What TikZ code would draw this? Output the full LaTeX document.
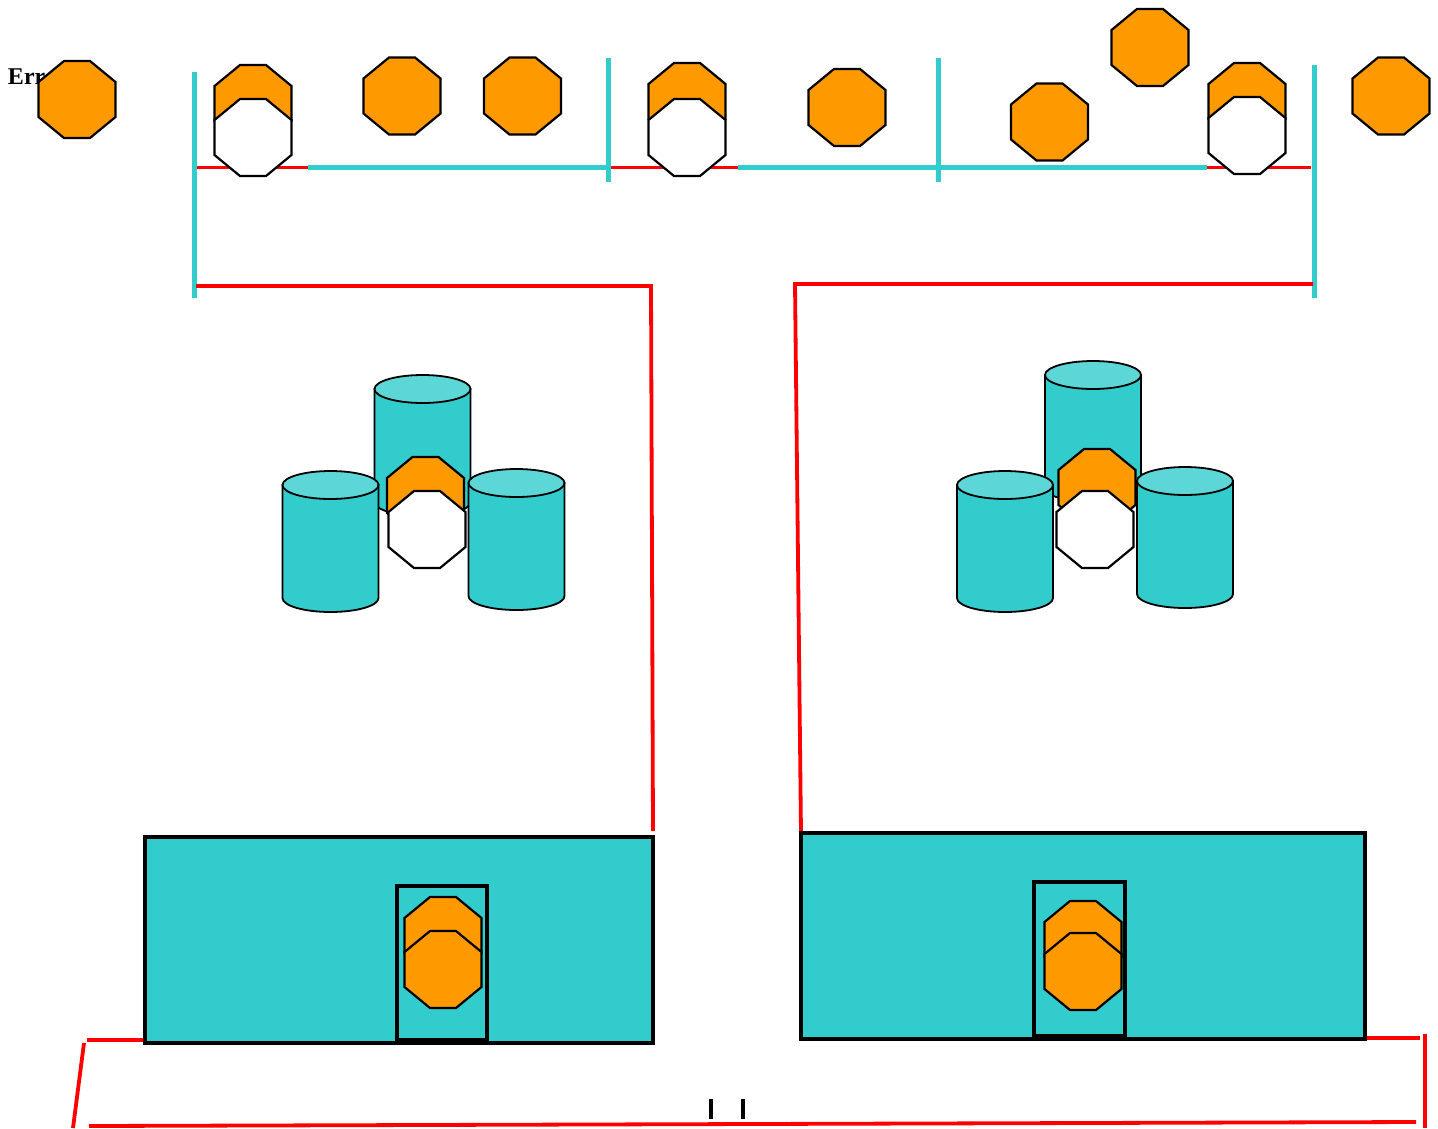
\documentclass[tikz,border=0pt]{standalone}
\usepackage{fontspec}
\setmainfont{Liberation Serif}
\definecolor{tealfill}{HTML}{33CCCC}
\definecolor{tealtop}{HTML}{5CD6D6}
\definecolor{amber}{HTML}{FF9900}
\tikzstyle{every node}=[inner sep=0pt, outer sep=0pt]
\tikzstyle{octaline} = [draw=black, line width=2.2pt]
\tikzstyle{drumline} = [draw=black, line width=1.8pt]
\tikzstyle{rack} = [rectangle, draw=black, line width=3.5pt, fill=tealfill]
\tikzstyle{slot} = [rack, fill=tealfill]
\tikzstyle{line} = [draw, red, line width=3.8pt]
\tikzstyle{bus} = [draw, tealfill, line width=4.4pt]
\tikzstyle{tick} = [draw, black, line width=4pt]
\tikzset{pics/octa/.style={code={
    \path [octaline, fill=#1] (-38.5,-17.5) -- (-13,-38.5) -- (13,-38.5) -- (38.5,-17.5) -- (38.5,17.5) -- (13,38.5) -- (-13,38.5) -- (-38.5,17.5) -- cycle;
}}}
\tikzset{pics/drum/.style={code={
    \path [drumline, fill=tealfill] (-48,0) -- (-48,113) arc [start angle=180, end angle=360, x radius=48pt, y radius=14pt] -- (48,0) -- cycle;
    \path [drumline, fill=tealtop] (0,0) ellipse [x radius=48pt, y radius=14pt];
}}}

\begin{document}
\begin{tikzpicture}[x=1pt, y=-1pt]
    \useasboundingbox (0,0) rectangle (1438,1128);
    % Place coordinates
    \coordinate (barAtop) at (194.5,72);
    \coordinate (barAbot) at (194.5,298);
    \coordinate (barBtop) at (608.5,58);
    \coordinate (barBbot) at (608.5,182);
    \coordinate (barCtop) at (938.5,58);
    \coordinate (barCbot) at (938.5,182);
    \coordinate (barDtop) at (1314.5,65);
    \coordinate (barDbot) at (1314.5,298);
    \coordinate (redAa) at (195,167.5);
    \coordinate (redAb) at (308,167.5);
    \coordinate (redBa) at (610,167.5);
    \coordinate (redBb) at (738,167.5);
    \coordinate (redCa) at (1207,167.5);
    \coordinate (redCb) at (1311,167.5);
    \coordinate (busCa) at (940,167.5);
    \coordinate (leftA) at (196,286);
    \coordinate (leftB) at (651,286);
    \coordinate (leftC) at (653,831);
    \coordinate (rightA) at (1313,284);
    \coordinate (rightB) at (795,284);
    \coordinate (rightC) at (801,833);
    \coordinate (footA) at (144,1040);
    \coordinate (footB) at (87,1040);
    \coordinate (footC) at (84,1043);
    \coordinate (footD) at (73,1128);
    \coordinate (footE) at (89,1126);
    \coordinate (footF) at (1416,1122);
    \coordinate (footG) at (1365,1038);
    \coordinate (footH) at (1420,1038);
    \coordinate (footI) at (1425,1034);
    \coordinate (footJ) at (1425,1128);
    \coordinate (tickAa) at (710.5,1099);
    \coordinate (tickAb) at (710.5,1119);
    \coordinate (tickBa) at (742.5,1099);
    \coordinate (tickBb) at (742.5,1119);
    % Draw edges
    \path [line] (redAa) -- (redAb);
    \path [bus] (redAb) -- (barBtop |- redAb);
    \path [line] (redBa) -- (redBb);
    \path [bus] (redBb) -- (barCtop |- redBb);
    \path [bus] (busCa) -- (redCa);
    \path [line] (redCa) -- (redCb);
    \path [bus] (barAtop) -- (barAbot);
    \path [bus] (barBtop) -- (barBbot);
    \path [bus] (barCtop) -- (barCbot);
    \path [bus] (barDtop) -- (barDbot);
    \path [line] (leftA) -- (leftB) -- (leftC);
    \path [line] (rightA) -- (rightB) -- (rightC);
    \path [line] (footA) -- (footB);
    \path [line] (footC) -- (footD);
    \path [line] (footE) -- (footF);
    \path [line] (footG) -- (footH);
    \path [line] (footI) -- (footJ);
    \path [tick] (tickAa) -- (tickAb);
    \path [tick] (tickBa) -- (tickBb);
    % Place nodes
    \node [anchor=base west, font=\bfseries\fontsize{24pt}{24pt}\selectfont] (errtext) at (8,84) {Err};
    \pic (first) at (77,99.5) {octa=amber};
    \pic (pairAback) at (253,103.5) {octa=amber};
    \pic (pairAfront) at (253,137.5) {octa=white};
    \pic (soloA) at (402,96) {octa=amber};
    \pic (soloB) at (522.5,96) {octa=amber};
    \pic (pairBback) at (687,101.5) {octa=amber};
    \pic (pairBfront) at (687,137.5) {octa=white};
    \pic (soloC) at (847,107.5) {octa=amber};
    \pic (soloD) at (1049.5,122) {octa=amber};
    \pic (soloE) at (1150,47.5) {octa=amber};
    \pic (pairCback) at (1247,101.5) {octa=amber};
    \pic (pairCfront) at (1247,135.5) {octa=white};
    \pic (last) at (1391,96) {octa=amber};
    % Left group
    \pic (drumAtop) at (422.5,389) {drum};
    \pic (drumAleft) at (330.5,485) {drum};
    \pic (drumAright) at (516.5,483) {drum};
    \pic (groupAback) at (425.5,495.5) {octa=amber};
    \pic (groupAfront) at (427,529.5) {octa=white};
    % Right group
    \pic (drumBtop) at (1093,375) {drum};
    \pic (drumBleft) at (1005,485) {drum};
    \pic (drumBright) at (1185,481) {drum};
    \pic (groupBback) at (1097,487.5) {octa=amber};
    \pic (groupBfront) at (1095,529.5) {octa=white};
    % Bottom racks
    \node [rack, minimum width=508pt, minimum height=206pt] (rackA) at (399,940) {};
    \node [slot, minimum width=90pt, minimum height=154pt] (slotA) at (442,963) {};
    \pic (rackAback) at (443,935.5) {octa=amber};
    \pic (rackAfront) at (443,969.5) {octa=amber};
    \node [rack, minimum width=564pt, minimum height=206pt] (rackB) at (1083,936) {};
    \node [slot, minimum width=91pt, minimum height=154pt] (slotB) at (1079.5,959) {};
    \pic (rackBback) at (1083,939.5) {octa=amber};
    \pic (rackBfront) at (1083,971.5) {octa=amber};
\end{tikzpicture}
\end{document}
